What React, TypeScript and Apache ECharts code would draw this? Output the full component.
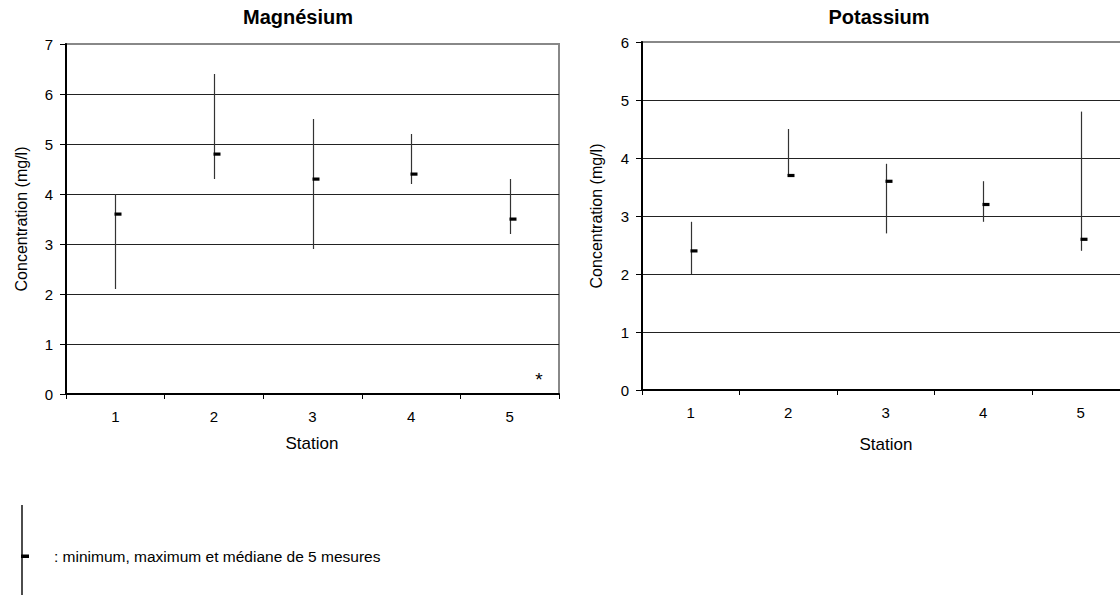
import React, { useEffect, useRef } from "react";
import * as echarts from "echarts";

// ---- data ----
const stations = ["1", "2", "3", "4", "5"];
const mgMin = [2.1, 4.3, 2.9, 4.2, 3.2];
const mgMax = [4.0, 6.4, 5.5, 5.2, 4.3];
const mgMed = [3.6, 4.8, 4.3, 4.4, 3.5];
const kMin = [2.0, 3.7, 2.7, 2.9, 2.4];
const kMax = [2.9, 4.5, 3.9, 3.6, 4.8];
const kMed = [2.4, 3.7, 3.6, 3.2, 2.6];
const mgAxisMax = 7;
const kAxisMax = 6;

const FONT = "'Liberation Sans', Arial, sans-serif";

function makeSeries(idx: number, mins: number[], maxs: number[], meds: number[]) {
  return {
    type: "custom",
    xAxisIndex: idx,
    yAxisIndex: idx,
    data: stations.map((_, i) => [i, mins[i], maxs[i], meds[i]]),
    encode: { x: 0, y: [1, 2, 3] },
    renderItem: (_params: any, api: any) => {
      const i = api.value(0);
      const pMin = api.coord([i, api.value(1)]);
      const pMax = api.coord([i, api.value(2)]);
      const pMed = api.coord([i, api.value(3)]);
      const x = Math.round(pMin[0]) + 0.5;
      return {
        type: "group",
        children: [
          {
            type: "line",
            shape: { x1: x, y1: pMin[1], x2: x, y2: pMax[1] },
            style: { stroke: "#333", lineWidth: 1.2 },
          },
          {
            type: "rect",
            shape: { x: x - 1, y: pMed[1] - 1.5, width: 7, height: 3.2 },
            style: { fill: "#000" },
          },
        ],
      };
    },
  };
}

function xAxis(idx: number) {
  return {
    type: "category",
    gridIndex: idx,
    data: stations,
    boundaryGap: true,
    axisLine: { show: true, lineStyle: { color: "#000", width: 2 } },
    axisTick: { show: true, length: 5, lineStyle: { color: "#000", width: 1 } },
    axisLabel: { fontSize: 15, color: "#000", margin: 15, fontFamily: FONT },
    splitLine: { show: false },
  };
}

function yAxis(idx: number, max: number) {
  return {
    type: "value",
    gridIndex: idx,
    min: 0,
    max,
    interval: 1,
    axisLine: { show: true, lineStyle: { color: "#000", width: 2 } },
    axisTick: { show: true, length: 6, lineStyle: { color: "#000", width: 1 } },
    axisLabel: { fontSize: 15, color: "#000", margin: 13, fontFamily: FONT },
    splitLine: {
      show: true,
      showMinLine: false,
      showMaxLine: false,
      lineStyle: { color: "#222", width: 1 },
    },
  };
}

function txt(x: number, y: number, text: string, size: number, opts: any = {}) {
  return {
    type: "text",
    x,
    y,
    rotation: opts.rotation || 0,
    style: {
      text,
      fontSize: size,
      fontWeight: opts.bold ? "bold" : "normal",
      fontFamily: FONT,
      fill: "#000",
      textAlign: opts.align || "center",
      textVerticalAlign: "middle",
    },
  };
}

export default function App() {
  const ref = useRef<HTMLDivElement>(null);
  useEffect(() => {
    document.body.style.margin = "0";
    const chart = echarts.init(ref.current!, undefined, { renderer: "svg" });
    chart.setOption({
      animation: false,
      backgroundColor: "#fff",
      grid: [
        { left: 66, top: 44, width: 493, height: 350, show: true, borderColor: "#888", borderWidth: 2, backgroundColor: "transparent" },
        { left: 642, top: 42, width: 487.5, height: 348, show: true, borderColor: "#888", borderWidth: 2, backgroundColor: "transparent" },
      ],
      xAxis: [xAxis(0), xAxis(1)],
      yAxis: [yAxis(0, mgAxisMax), yAxis(1, kAxisMax)],
      series: [makeSeries(0, mgMin, mgMax, mgMed), makeSeries(1, kMin, kMax, kMed)],
      graphic: [
        txt(298, 17, "Magnésium", 20, { bold: true }),
        txt(879, 17, "Potassium", 20, { bold: true }),
        txt(312, 443, "Station", 17),
        txt(886, 444, "Station", 17),
        txt(21, 219, "Concentration (mg/l)", 16, { rotation: Math.PI / 2 }),
        txt(596, 216, "Concentration (mg/l)", 16, { rotation: Math.PI / 2 }),
        txt(539, 379, "*", 19),
        {
          type: "line",
          shape: { x1: 22, y1: 505, x2: 22, y2: 595 },
          style: { stroke: "#000", lineWidth: 1.4 },
        },
        {
          type: "rect",
          shape: { x: 21, y: 554.5, width: 8, height: 3.5 },
          style: { fill: "#000" },
        },
        txt(54, 556, ": minimum, maximum et médiane de 5 mesures", 15.5, { align: "left" }),
      ],
    });
    return () => chart.dispose();
  }, []);
  return (
    <div style={{ width: 1120, height: 598, overflow: "hidden", position: "relative" }}>
      <div ref={ref} style={{ width: 1140, height: 598 }} />
    </div>
  );
}
